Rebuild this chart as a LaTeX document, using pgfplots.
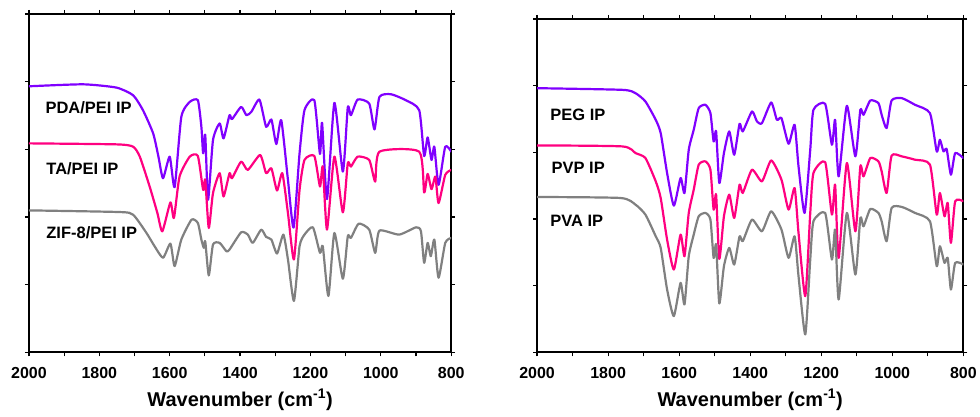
\documentclass[border=0pt]{standalone}
\usepackage{fontspec}
\setmainfont{Liberation Sans}
\usepackage{pgfplots}
\usepackage{pgfplotstable}
\pgfplotsset{compat=1.18}
\definecolor{cpur}{HTML}{8000FF}
\definecolor{cpink}{HTML}{FF0080}
\definecolor{cgrey}{HTML}{808080}

% ---------- left panel ----------
\pgfplotstableread{
w y
2000 802
1846 808
1751 798
1704 775
1676 730
1647 660
1632 590
1619 525
1600 590
1586 498
1567 710
1543 755
1520 760
1510 680
1505 600
1499 655
1491 460
1477 640
1458 690
1447 645
1430 715
1423 703
1397 740
1382 715
1368 725
1345 762
1326 680
1311 702
1297 628
1283 700
1264 520
1248 376
1231 600
1217 730
1189 760
1173 598
1167 692
1153 462
1132 752
1108 545
1094 738
1085 715
1066 762
1033 750
1018 672
1004 770
971 778
929 760
891 730
877 592
867 648
856 580
848 620
836 505
817 620
800 605
}\lpda
\pgfplotstableread{
w y
2000 630
1751 627
1704 620
1685 590
1657 500
1635 420
1621 365
1598 452
1588 405
1572 530
1543 590
1520 592
1505 490
1499 520
1489 375
1477 480
1458 540
1447 470
1430 540
1423 525
1397 575
1378 550
1343 595
1326 540
1311 555
1295 488
1280 540
1264 420
1247 280
1231 490
1217 580
1189 592
1173 500
1165 560
1153 370
1132 590
1108 422
1094 570
1085 560
1066 590
1033 580
1016 515
1004 605
891 605
877 482
867 538
856 492
845 530
836 450
817 535
800 550
}\lta
\pgfplotstableread{
w y
2000 428
1742 423
1704 415
1666 360
1643 320
1619 285
1598 328
1586 260
1567 340
1538 400
1520 390
1510 340
1503 315
1499 335
1489 232
1477 325
1458 330
1439 305
1430 310
1397 362
1378 355
1364 330
1340 370
1326 348
1311 340
1295 298
1277 355
1264 280
1247 155
1231 320
1217 355
1193 377
1173 300
1165 320
1149 170
1132 360
1108 222
1094 350
1085 345
1063 388
1033 370
1016 300
1004 367
948 355
900 377
886 365
877 270
867 330
858 290
848 340
836 225
817 330
800 345
}\lzif

% ---------- right panel ----------
\pgfplotstableread{
w y
2000 794
1760 789
1723 779
1695 754
1666 699
1652 659
1634 539
1615 441
1596 524
1585 479
1573 609
1559 669
1545 734
1526 744
1512 719
1503 634
1496 664
1487 509
1474 599
1459 664
1445 594
1430 687
1421 664
1395 724
1381 694
1367 689
1341 751
1325 699
1312 704
1292 627
1275 684
1264 559
1247 419
1231 609
1222 729
1189 747
1170 624
1161 699
1151 529
1128 741
1104 589
1090 729
1081 714
1062 757
1039 749
1030 714
1016 674
1002 757
973 764
936 744
894 719
875 604
866 639
856 604
847 611
835 534
823 599
800 584
}\rpeg
\pgfplotstableread{
w y
2000 622
1760 619
1723 599
1695 584
1666 514
1652 464
1634 339
1615 249
1596 354
1585 289
1573 419
1559 489
1545 564
1526 574
1512 549
1503 429
1496 474
1487 281
1474 409
1459 474
1445 404
1430 504
1421 479
1395 549
1367 514
1341 577
1312 519
1292 429
1275 494
1264 359
1245 169
1231 419
1222 539
1189 572
1170 414
1161 504
1151 284
1128 569
1104 364
1090 559
1081 529
1062 584
1039 574
1030 544
1016 479
1002 591
973 589
936 579
894 564
875 414
866 479
853 409
844 449
835 329
823 454
800 454
}\rpvp
\pgfplotstableread{
w y
2000 467
1765 464
1723 444
1695 414
1666 349
1652 314
1634 189
1615 109
1596 209
1585 144
1573 289
1559 354
1545 409
1526 419
1512 399
1503 284
1496 324
1487 147
1474 259
1459 314
1445 264
1430 349
1421 334
1395 399
1367 364
1341 424
1312 369
1292 284
1275 349
1264 229
1245 54
1231 279
1222 394
1189 419
1170 279
1161 369
1151 159
1128 419
1104 234
1090 404
1081 379
1062 431
1039 419
1030 394
1016 334
1002 434
973 437
936 419
894 394
875 259
866 319
853 269
844 284
835 189
823 269
800 264
}\rpva

\pgfplotsset{
  ftir/.style={
    scale only axis,
    x dir=reverse,
    xmin=800, xmax=2000, ymin=0,
    xtick={800,1000,...,2000},
    minor xtick={900,1100,...,1900},
    tick align=outside,
    major tick length=4pt,
    minor tick length=4pt,
    yticklabels={},
    axis line style={line width=1.8pt},
    every tick/.style={black, line width=1.2pt},
    /pgf/number format/assume math mode=true,
    /pgf/number format/1000 sep={},
    xticklabel style={font=\fontsize{16}{16}\selectfont\bfseries, anchor=base, yshift=-22pt},
    xlabel={Wavenumber (cm\textsuperscript{-1})},
    xlabel style={font=\fontsize{20}{20}\selectfont\bfseries, at={(axis description cs:0.5,0)}, anchor=base, yshift=-54pt},
    every axis plot/.append style={line width=2.2pt, line join=round, line cap=round, mark=none, smooth, tension=0.35},
  },
}
\tikzset{lab/.style={anchor=west, font=\fontsize{16.5}{16.5}\selectfont\bfseries}}

\begin{document}
\begin{tikzpicture}
\path (0,0) rectangle (980pt,417pt);
\begin{axis}[ftir, at={(29pt,64pt)}, anchor=south west, width=423pt, height=339pt,
  ymax=1020, ytick={0,204,408,612,816,1020}]
\addplot[cpur] table {\lpda};
\addplot[cpink] table {\lta};
\addplot[cgrey] table {\lzif};
\node[lab] at (axis description cs:0.031,0.723) {PDA/PEI IP};
\node[lab] at (axis description cs:0.033,0.543) {TA/PEI IP};
\node[lab] at (axis description cs:0.033,0.354) {ZIF-8/PEI IP};
\end{axis}
\begin{axis}[ftir, at={(538pt,64pt)}, anchor=south west, width=427pt, height=334pt,
  ymax=1002, ytick={0,200,401,601,802,1002}]
\addplot[cpur] table {\rpeg};
\addplot[cpink] table {\rpvp};
\addplot[cgrey] table {\rpva};
\node[lab] at (axis description cs:0.023,0.713) {PEG IP};
\node[lab] at (axis description cs:0.026,0.554) {PVP IP};
\node[lab] at (axis description cs:0.023,0.395) {PVA IP};
\end{axis}
\end{tikzpicture}
\end{document}
